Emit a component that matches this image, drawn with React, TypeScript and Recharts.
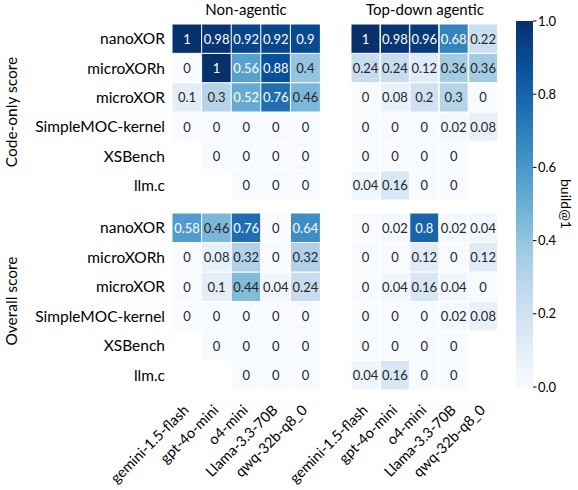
import { Bar, BarChart, Cell, LabelList, XAxis, YAxis } from "recharts";

const MODELS = ["gemini-1.5-flash", "gpt-4o-mini", "o4-mini", "Llama-3.3-70B", "qwq-32b-q8_0"];
const BENCHMARKS = ["nanoXOR", "microXORh", "microXOR", "SimpleMOC-kernel", "XSBench", "llm.c"];

// rows follow BENCHMARKS, columns follow MODELS; null = not evaluated
const CODE_NON_AGENTIC = [
  [1, 0.98, 0.92, 0.92, 0.9],
  [0, 1, 0.56, 0.88, 0.4],
  [0.1, 0.3, 0.52, 0.76, 0.46],
  [0, 0, 0, 0, 0],
  [null, 0, 0, 0, 0],
  [null, null, 0, 0, 0],
];
const CODE_TOP_DOWN = [
  [1, 0.98, 0.96, 0.68, 0.22],
  [0.24, 0.24, 0.12, 0.36, 0.36],
  [0, 0.08, 0.2, 0.3, 0],
  [0, 0, 0, 0.02, 0.08],
  [0, 0, 0, 0, null],
  [0.04, 0.16, 0, 0, null],
];
const OVERALL_NON_AGENTIC = [
  [0.58, 0.46, 0.76, 0, 0.64],
  [0, 0.08, 0.32, 0, 0.32],
  [0, 0.1, 0.44, 0.04, 0.24],
  [0, 0, 0, 0, 0],
  [null, 0, 0, 0, 0],
  [null, null, 0, 0, 0],
];
const OVERALL_TOP_DOWN = [
  [0, 0.02, 0.8, 0.02, 0.04],
  [0, 0, 0.12, 0, 0.12],
  [0, 0.04, 0.16, 0.04, 0],
  [0, 0, 0, 0.02, 0.08],
  [0, 0, 0, 0, null],
  [0.04, 0.16, 0, 0, null],
];

const COLORBAR_TICKS = [0, 0.2, 0.4, 0.6, 0.8, 1];

// matplotlib "Blues"
const BLUES = ["#f7fbff", "#deebf7", "#c6dbef", "#9ecae1", "#6baed6", "#4292c6", "#2171b5", "#08519c", "#08306b"];
const FONT = "Lato, 'Open Sans', sans-serif";
const LABEL_SIZE = 15.5;

function hexToRgb(h: string) {
  return [1, 3, 5].map((i) => parseInt(h.slice(i, i + 2), 16));
}

function bluesRgb(v: number) {
  const t = Math.max(0, Math.min(1, v)) * 8;
  const i = Math.min(7, Math.floor(t));
  const f = t - i;
  const a = hexToRgb(BLUES[i]);
  const b = hexToRgb(BLUES[i + 1]);
  return a.map((c, k) => Math.round(c + (b[k] - c) * f));
}

function blues(v: number) {
  const [r, g, b] = bluesRgb(v);
  return `rgb(${r},${g},${b})`;
}

// seaborn picks dark/white annotation text from the cell's luminance
function textColor(v: number) {
  const lin = bluesRgb(v).map((c) => {
    const s = c / 255;
    return s <= 0.03928 ? s / 12.92 : Math.pow((s + 0.055) / 1.055, 2.4);
  });
  const lum = 0.2126 * lin[0] + 0.7152 * lin[1] + 0.0722 * lin[2];
  return lum > 0.408 ? "#262626" : "#ffffff";
}

const ROW_TICKS = BENCHMARKS.map((_, i) => i + 0.5);

function ModelTick(props: any) {
  const { x, y, payload } = props;
  const tx = x + 3;
  const ty = y + 21;
  return (
    <text
      x={tx}
      y={ty}
      textAnchor="end"
      fontSize={14.5}
      fill="#000"
      fontFamily={FONT}
      transform={`rotate(-45, ${tx}, ${ty})`}
    >
      {payload.value}
    </text>
  );
}

function HeatPanel({
  values,
  left,
  top,
  width,
  height,
  marginTop,
  marginLeft,
  showY,
  showX,
}: {
  values: (number | null)[][];
  left: number;
  top: number;
  width: number;
  height: number;
  marginTop: number;
  marginLeft: number;
  showY: boolean;
  showX: boolean;
}) {
  const data = MODELS.map((m) => {
    const row: Record<string, string | number> = { model: m };
    BENCHMARKS.forEach((_, bi) => {
      row[`b${bi}`] = 1;
    });
    return row;
  });

  return (
    <div style={{ position: "absolute", left, top }}>
      <BarChart
        width={width}
        height={height}
        data={data}
        margin={{ top: marginTop, right: 0, bottom: 0, left: marginLeft }}
        barCategoryGap={0}
        barGap={0}
      >
        <XAxis
          dataKey="model"
          hide={!showX}
          interval={0}
          height={100}
          tickLine={false}
          axisLine={false}
          tickSize={0}
          tickMargin={0}
          tick={<ModelTick />}
        />
        <YAxis
          type="number"
          domain={[0, BENCHMARKS.length]}
          ticks={ROW_TICKS}
          interval={0}
          hide={!showY}
          width={172}
          axisLine={false}
          tickLine={false}
          tickSize={0}
          tickMargin={7}
          tick={{ fill: "#000", fontSize: LABEL_SIZE, fontFamily: FONT }}
          tickFormatter={(v: number) => BENCHMARKS[BENCHMARKS.length - 1 - Math.floor(v)]}
        />
        {BENCHMARKS.map((_, k) => {
          // stack from the bottom row up
          const bi = BENCHMARKS.length - 1 - k;
          return (
            <Bar key={bi} dataKey={`b${bi}`} stackId="heat" isAnimationActive={false}>
              {MODELS.map((_, ci) => {
                const v = values[bi][ci];
                return (
                  <Cell
                    key={ci}
                    fill={v == null ? "none" : blues(v)}
                    stroke={v == null ? "none" : "#fff"}
                    strokeWidth={1}
                  />
                );
              })}
              <LabelList
                content={(p: any) => {
                  const v = values[bi][p.index];
                  if (v == null) return null;
                  return (
                    <text
                      x={p.x + p.width / 2}
                      y={p.y + p.height / 2}
                      textAnchor="middle"
                      dominantBaseline="central"
                      fontSize={13}
                      fontFamily={FONT}
                      fill={textColor(v)}
                    >
                      {String(v)}
                    </text>
                  );
                }}
              />
            </Bar>
          );
        })}
      </BarChart>
    </div>
  );
}

function ColorBar() {
  return (
    <div style={{ position: "absolute", left: 500, top: 0 }}>
      <BarChart
        width={78}
        height={400}
        data={[{ k: "c", v: 1 }]}
        margin={{ top: 21, right: 0, bottom: 13, left: 16 }}
        barCategoryGap={0}
      >
        <defs>
          <linearGradient id="bluesGrad" x1="0" y1="1" x2="0" y2="0">
            {BLUES.map((c, i) => (
              <stop key={i} offset={`${(i / 8) * 100}%`} stopColor={c} />
            ))}
          </linearGradient>
        </defs>
        <XAxis dataKey="k" hide />
        <YAxis
          orientation="right"
          type="number"
          domain={[0, 1]}
          ticks={COLORBAR_TICKS}
          interval={0}
          width={45}
          axisLine={false}
          tickLine={{ stroke: "#000" }}
          tickSize={3.5}
          tickMargin={1.5}
          tick={{ fill: "#000", fontSize: 13, fontFamily: FONT }}
          tickFormatter={(v: number) => v.toFixed(1)}
        />
        <Bar dataKey="v" fill="url(#bluesGrad)" isAnimationActive={false} />
      </BarChart>
    </div>
  );
}

export default function App() {
  return (
    <div
      style={{
        position: "absolute",
        left: 0,
        top: 0,
        width: 578,
        height: 490,
        overflow: "hidden",
        background: "#fff",
        fontFamily: FONT,
      }}
    >
      <HeatPanel values={CODE_NON_AGENTIC} left={0} top={0} width={320} height={200} marginTop={24} marginLeft={0} showY showX={false} />
      <HeatPanel values={CODE_TOP_DOWN} left={231} top={0} width={267} height={200} marginTop={24} marginLeft={120} showY={false} showX={false} />
      <HeatPanel values={OVERALL_NON_AGENTIC} left={0} top={213} width={320} height={277} marginTop={0} marginLeft={0} showY showX />
      <HeatPanel values={OVERALL_TOP_DOWN} left={231} top={213} width={267} height={277} marginTop={0} marginLeft={120} showY={false} showX />
      <ColorBar />
      <svg
        width={578}
        height={490}
        style={{ position: "absolute", left: 0, top: 0, pointerEvents: "none" }}
        fontFamily={FONT}
      >
        <text x={246} y={15} textAnchor="middle" fontSize={15} fill="#000">
          Non-agentic
        </text>
        <text x={425} y={15} textAnchor="middle" fontSize={15} fill="#000">
          Top-down agentic
        </text>
        <text
          x={11}
          y={112}
          textAnchor="middle"
          dominantBaseline="central"
          fontSize={15.5}
          fill="#000"
          transform="rotate(-90, 11, 112)"
        >
          Code-only score
        </text>
        <text
          x={11}
          y={301}
          textAnchor="middle"
          dominantBaseline="central"
          fontSize={15.5}
          fill="#000"
          transform="rotate(-90, 11, 301)"
        >
          Overall score
        </text>
        <text
          x={566}
          y={204}
          textAnchor="middle"
          dominantBaseline="central"
          fontSize={14}
          fill="#000"
          transform="rotate(90, 566, 204)"
        >
          build@1
        </text>
      </svg>
    </div>
  );
}
